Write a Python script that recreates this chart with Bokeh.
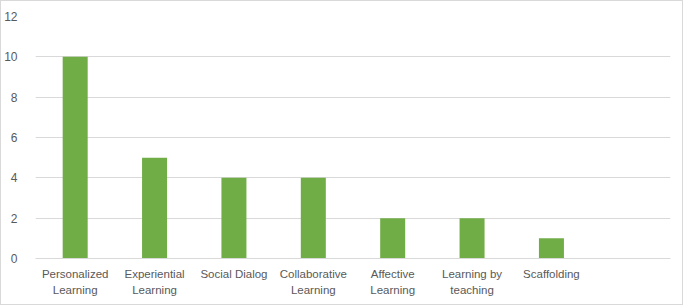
from bokeh.plotting import figure
from bokeh.models import FixedTicker, ColumnDataSource
from bokeh.embed import file_html
from bokeh.resources import INLINE

categories = ["Personalized\nLearning", "Experiential\nLearning", "Social Dialog",
              "Collaborative\nLearning", "Affective\nLearning", "Learning by\nteaching",
              "Scaffolding", ""]
values = [10, 5, 4, 4, 2, 2, 1, 0]
y_ticks = [0, 2, 4, 6, 8, 10, 12]

xs = [i + 0.5 for i in range(len(categories))]
src = ColumnDataSource(dict(x=xs[:7], top=values[:7]))

p = figure(width=683, height=305, x_range=(0, len(categories)), y_range=(0, 12),
           output_backend="svg", toolbar_location=None,
           min_border_left=33, min_border_right=14, min_border_top=15, min_border_bottom=48)
p.vbar(x="x", top="top", width=0.315, bottom=0, source=src,
       fill_color="#70AD47", line_color=None)

p.outline_line_color = None
p.styles = {"border": "1px solid #D9D9D9"}
p.xgrid.grid_line_color = None
p.ygrid.grid_line_color = "#D9D9D9"
p.ygrid.grid_line_width = 1

p.yaxis.ticker = FixedTicker(ticks=y_ticks)
p.yaxis.axis_line_color = None
p.yaxis.major_tick_line_color = None
p.yaxis.minor_tick_line_color = None
p.yaxis.major_label_text_color = "#595959"
p.yaxis.major_label_text_font = "Liberation Sans"
p.yaxis.major_label_text_font_size = "12px"
p.yaxis.major_label_standoff = 12

p.xaxis.ticker = FixedTicker(ticks=xs)
p.xaxis.major_label_overrides = {x: c for x, c in zip(xs, categories)}
p.xaxis.axis_line_color = "#D9D9D9"
p.xaxis.major_tick_line_color = None
p.xaxis.minor_tick_line_color = None
p.xaxis.major_label_text_color = "#595959"
p.xaxis.major_label_text_font = "Liberation Sans"
p.xaxis.major_label_text_font_size = "11.5px"
p.xaxis.major_label_text_line_height = 1.4
p.xaxis.major_label_standoff = 3

open("out.html", "w").write(file_html(p, INLINE))
